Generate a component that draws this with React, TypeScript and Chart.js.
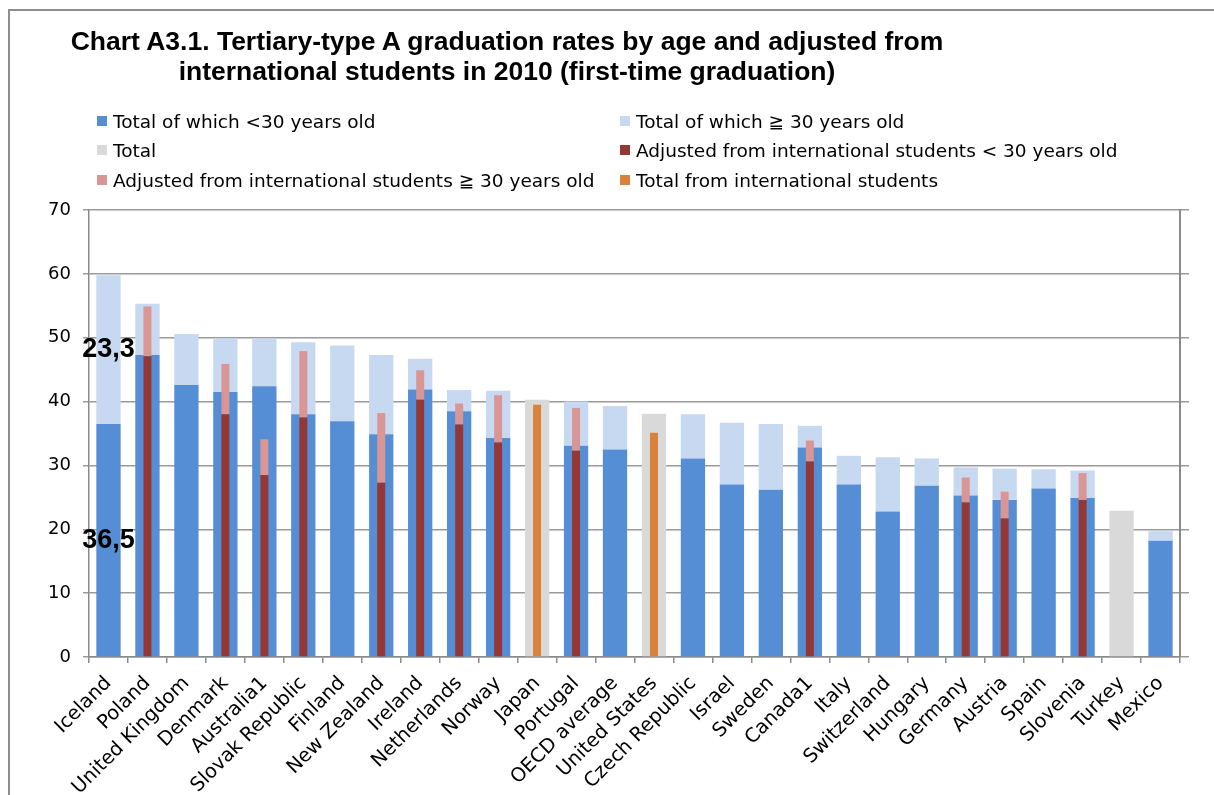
import React, { useEffect, useRef } from 'react';
import { Chart, registerables } from 'chart.js';

Chart.register(...registerables);

const categories = [
  'Iceland', 'Poland', 'United Kingdom', 'Denmark', 'Australia1', 'Slovak Republic', 'Finland',
  'New Zealand', 'Ireland', 'Netherlands', 'Norway', 'Japan', 'Portugal', 'OECD average',
  'United States', 'Czech Republic', 'Israel', 'Sweden', 'Canada1', 'Italy', 'Switzerland',
  'Hungary', 'Germany', 'Austria', 'Spain', 'Slovenia', 'Turkey', 'Mexico',
];

const under30 = [
  36.5, 47.3, 42.6, 41.5, 42.4, 38.0, 36.9, 34.9, 41.9, 38.5, 34.3, null, 33.1, 32.5,
  null, 31.1, 27.0, 26.2, 32.8, 27.0, 22.8, 26.8, 25.3, 24.6, 26.4, 24.9, null, 18.2,
];

const over30 = [
  23.3, 8.0, 8.0, 8.4, 7.5, 11.3, 11.9, 12.4, 4.8, 3.3, 7.4, null, 6.9, 6.8,
  null, 6.9, 9.7, 10.3, 3.4, 4.5, 8.5, 4.3, 4.4, 4.9, 3.0, 4.3, null, 1.5,
];

const totalOnly = [
  null, null, null, null, null, null, null, null, null, null, null, 40.3, null, null,
  38.1, null, null, null, null, null, null, null, null, null, null, null, 22.9, null,
];

const adjUnder30 = [
  null, 47.1, null, 38.0, 28.5, 37.5, null, 27.3, 40.3, 36.4, 33.6, null, 32.3, null,
  null, null, null, null, 30.6, null, null, null, 24.2, 21.7, null, 24.6, null, null,
];

const adjOver30 = [
  null, 7.8, null, 7.9, 5.6, 10.4, null, 10.9, 4.6, 3.3, 7.4, null, 6.7, null,
  null, null, null, null, 3.3, null, null, null, 3.9, 4.2, null, 4.2, null, null,
];

const intlTotal = [
  null, null, null, null, null, null, null, null, null, null, null, 39.5, null, null,
  35.1, null, null, null, null, null, null, null, null, null, null, null, null, null,
];

const yMin = 0;
const yMax = 70;
const yStep = 10;

const labelledCategories = ['Iceland'];

const seriesNames = [
  'Total of which <30 years old',
  'Total of which \u2267 30 years old',
  'Total',
  'Adjusted from international students < 30 years old',
  'Adjusted from international students \u2267 30 years old',
  'Total from international students',
];

const colors = ['#558ED5', '#C6D9F1', '#D9D9D9', '#953735', '#D99694', '#D9823B'];

const legendOrder = [0, 1, 2, 3, 4, 5];

const AXIS_FONT = '"DejaVu Sans", Verdana, sans-serif';

const valueLabels = {
  id: 'valueLabels',
  afterDatasetsDraw(chart: any) {
    const ctx = chart.ctx;
    ctx.save();
    ctx.font = 'bold 27px "Liberation Sans", Arial, sans-serif';
    ctx.fillStyle = '#000';
    ctx.textAlign = 'center';
    ctx.textBaseline = 'middle';
    [0, 1].forEach((di) => {
      const meta = chart.getDatasetMeta(di);
      labelledCategories.forEach((cat) => {
        const i = categories.indexOf(cat);
        const el = meta.data[i];
        const v = chart.data.datasets[di].data[i];
        if (!el || v == null) return;
        const p = el.getProps(['x', 'y', 'base'], true);
        ctx.fillText(Number(v).toFixed(1).replace('.', ','), p.x, (p.y + p.base) / 2);
      });
    });
    ctx.restore();
  },
};

export default function App() {
  const ref = useRef<HTMLCanvasElement | null>(null);

  useEffect(() => {
    if (!ref.current) return;
    const wide = 0.624;
    const narrow = 0.205;
    const mk = (idx: number, data: any[], stack: string, pct: number, order: number) => ({
      label: seriesNames[idx],
      data,
      backgroundColor: colors[idx],
      borderWidth: 0,
      stack,
      grouped: false,
      categoryPercentage: 1,
      barPercentage: pct,
      order,
    });
    const chart = new Chart(ref.current, {
      type: 'bar',
      data: {
        labels: categories,
        datasets: [
          mk(0, under30, 'wide', wide, 1),
          mk(1, over30, 'wide', wide, 1),
          mk(2, totalOnly, 'wide', wide, 1),
          mk(3, adjUnder30, 'narrow', narrow, 0),
          mk(4, adjOver30, 'narrow', narrow, 0),
          mk(5, intlTotal, 'narrow', narrow, 0),
        ] as any,
      },
      options: {
        responsive: false,
        animation: false,
        events: [],
        layout: { padding: { top: 210, left: 0, right: 0, bottom: 0 } },
        plugins: {
          legend: { display: false },
          tooltip: { enabled: false },
          title: { display: false },
        },
        scales: {
          x: {
            stacked: true,
            grid: {
              display: true,
              offset: true,
              drawOnChartArea: false,
              drawTicks: true,
              tickLength: 6,
              color: '#8a8a8a',
              lineWidth: 1.5,
            },
            border: { color: '#8a8a8a', width: 1.5 },
            ticks: {
              autoSkip: false,
              maxRotation: 45,
              minRotation: 45,
              padding: 9,
              color: '#000',
              font: { family: AXIS_FONT, size: 19.5 },
            },
            afterFit: (s: any) => { s.height = 138; },
          },
          y: {
            stacked: true,
            min: yMin,
            max: yMax,
            ticks: {
              stepSize: yStep,
              padding: 12,
              color: '#000',
              font: { family: AXIS_FONT, size: 18 },
            },
            grid: { color: '#9a9a9a', lineWidth: 1.5, tickLength: 6 },
            border: { color: '#8a8a8a', width: 1.5 },
            afterFit: (s: any) => { s.width = 89; },
          },
          y2: {
            position: 'right',
            min: yMin,
            max: yMax,
            ticks: { stepSize: yStep, display: false },
            grid: { drawOnChartArea: false, color: '#9a9a9a', lineWidth: 1.5, tickLength: 9 },
            border: { color: '#8a8a8a', width: 2 },
            afterFit: (s: any) => { s.width = 34; },
          },
        },
      } as any,
      plugins: [valueLabels],
    });
    return () => chart.destroy();
  }, []);

  const legendPos = [
    { left: 97, top: 121 },
    { left: 620, top: 121 },
    { left: 97, top: 150 },
    { left: 620, top: 150 },
    { left: 97, top: 180 },
    { left: 620, top: 180 },
  ];

  return (
    <div style={{ position: 'relative', width: 1214, height: 795, overflow: 'hidden', background: '#fff' }}>
      <style>{'body{margin:0;}'}</style>
      <canvas ref={ref} width={1214} height={795} style={{ position: 'absolute', left: 0, top: 0, width: 1214, height: 795 }} />
      <div style={{ position: 'absolute', left: 8, top: 9, width: 1300, height: 900, borderTop: '2px solid #8e8e8e', borderLeft: '2px solid #8e8e8e', pointerEvents: 'none' }} />
      <div
        style={{
          position: 'absolute', left: 0, top: 26, width: 1014, textAlign: 'center',
          font: 'bold 26.5px "Liberation Sans", Arial, sans-serif', lineHeight: '30px', color: '#000',
        }}
      >
        Chart A3.1. Tertiary-type A graduation rates by age and adjusted from<br />
        international students in 2010 (first-time graduation)
      </div>
      {legendOrder.map((idx, k) => (
        <div
          key={idx}
          style={{
            position: 'absolute', left: legendPos[k].left, top: legendPos[k].top - 12, height: 24,
            display: 'flex', alignItems: 'center', whiteSpace: 'nowrap',
            font: `18.5px ${AXIS_FONT}`, color: '#000',
          }}
        >
          <span style={{ display: 'inline-block', width: 10, height: 10, background: colors[idx], marginRight: 6 }} />
          <span>{seriesNames[idx]}</span>
        </div>
      ))}
    </div>
  );
}
